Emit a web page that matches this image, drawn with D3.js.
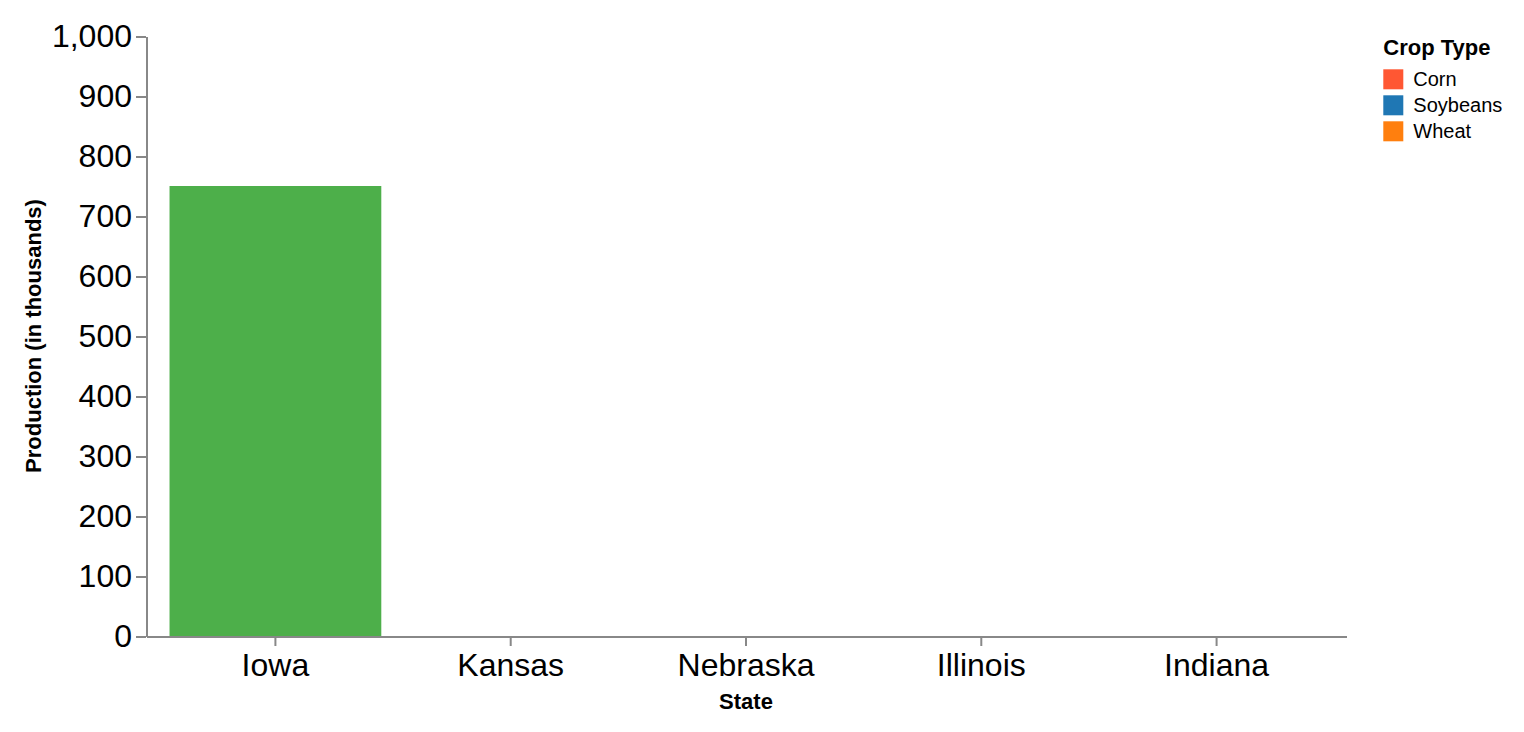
<!DOCTYPE html>
<html>
<head>
<meta charset="utf-8">
<script src="https://cdn.jsdelivr.net/npm/d3@7"></script>
<style>
  html, body { margin: 0; padding: 0; background: #fff; }
  svg { display: block; }
  text { font-family: "Liberation Sans", Arial, Helvetica, sans-serif; fill: #000; }
</style>
</head>
<body>
<svg id="chart" width="1524" height="732"></svg>
<script>
// ---- data ----
const states = ["Iowa", "Kansas", "Nebraska", "Illinois", "Indiana"];
const production = [750, null, null, null, null];
const cropTypes = ["Corn", "Soybeans", "Wheat"];
const yTicks = [0, 100, 200, 300, 400, 500, 600, 700, 800, 900, 1000];

// ---- styles ----
const cropColors = ["#ff5733", "#1f77b4", "#ff7f0e"];
const barColor = "#4daf4a";
const axisColor = "#888888";

const S = 2;               // render scale
const W = 600, H = 300;    // plot size (base units)
const origin = { x: 73, y: 18 };

const svg = d3.select("#chart");
const root = svg.append("g").attr("transform", `scale(${S})`);
const plot = root.append("g").attr("transform", `translate(${origin.x},${origin.y})`);

const x = d3.scaleBand().domain(states).range([0, W]).paddingInner(0.1).paddingOuter(0.1);
const y = d3.scaleLinear().domain([0, 1000]).range([H, 0]);

const data = states.map((s, i) => ({ state: s, value: production[i] })).filter(d => d.value != null);

plot.selectAll("rect.bar").data(data).enter().append("rect")
  .attr("class", "bar")
  .attr("x", d => x(d.state))
  .attr("width", x.bandwidth())
  .attr("y", d => y(d.value))
  .attr("height", d => y(0) - y(d.value))
  .attr("fill", barColor);

// y axis
const yAxis = plot.append("g")
  .call(d3.axisLeft(y).tickValues(yTicks).tickFormat(d3.format(",")).tickSize(5).tickSizeOuter(0).tickPadding(2));
// x axis
const xAxis = plot.append("g").attr("transform", `translate(0,${H})`)
  .call(d3.axisBottom(x).tickSize(5).tickSizeOuter(0).tickPadding(3.6));

[yAxis, xAxis].forEach(ax => {
  ax.select(".domain").attr("stroke", axisColor).attr("stroke-width", 1);
  ax.selectAll(".tick line").attr("stroke", axisColor).attr("stroke-width", 1);
  ax.selectAll(".tick text").attr("font-size", 16).attr("fill", "#000")
    .style("font-family", '"Liberation Sans", Arial, Helvetica, sans-serif');
});

// axis titles
plot.append("text")
  .attr("transform", `translate(-52.5,${H / 2}) rotate(-90)`)
  .attr("text-anchor", "middle")
  .attr("font-size", 11).attr("font-weight", "bold")
  .text("Production (in thousands)");

plot.append("text")
  .attr("x", W / 2).attr("y", 336.25)
  .attr("text-anchor", "middle")
  .attr("font-size", 11).attr("font-weight", "bold")
  .text("State");

// legend
const color = d3.scaleOrdinal().domain(cropTypes).range(cropColors);
const legend = root.append("g").attr("transform", "translate(691.65,0)");
legend.append("text")
  .attr("x", 0).attr("y", 27.6)
  .attr("font-size", 11).attr("font-weight", "bold")
  .text("Crop Type");
const items = legend.selectAll("g.item").data(cropTypes).enter().append("g")
  .attr("class", "item")
  .attr("transform", (d, i) => `translate(0,${34.65 + i * 13})`);
items.append("rect").attr("width", 10).attr("height", 10).attr("fill", d => color(d));
items.append("text").attr("x", 15).attr("y", 5).attr("dy", "0.35em")
  .attr("font-size", 10).text(d => d);
</script>
</body>
</html>
